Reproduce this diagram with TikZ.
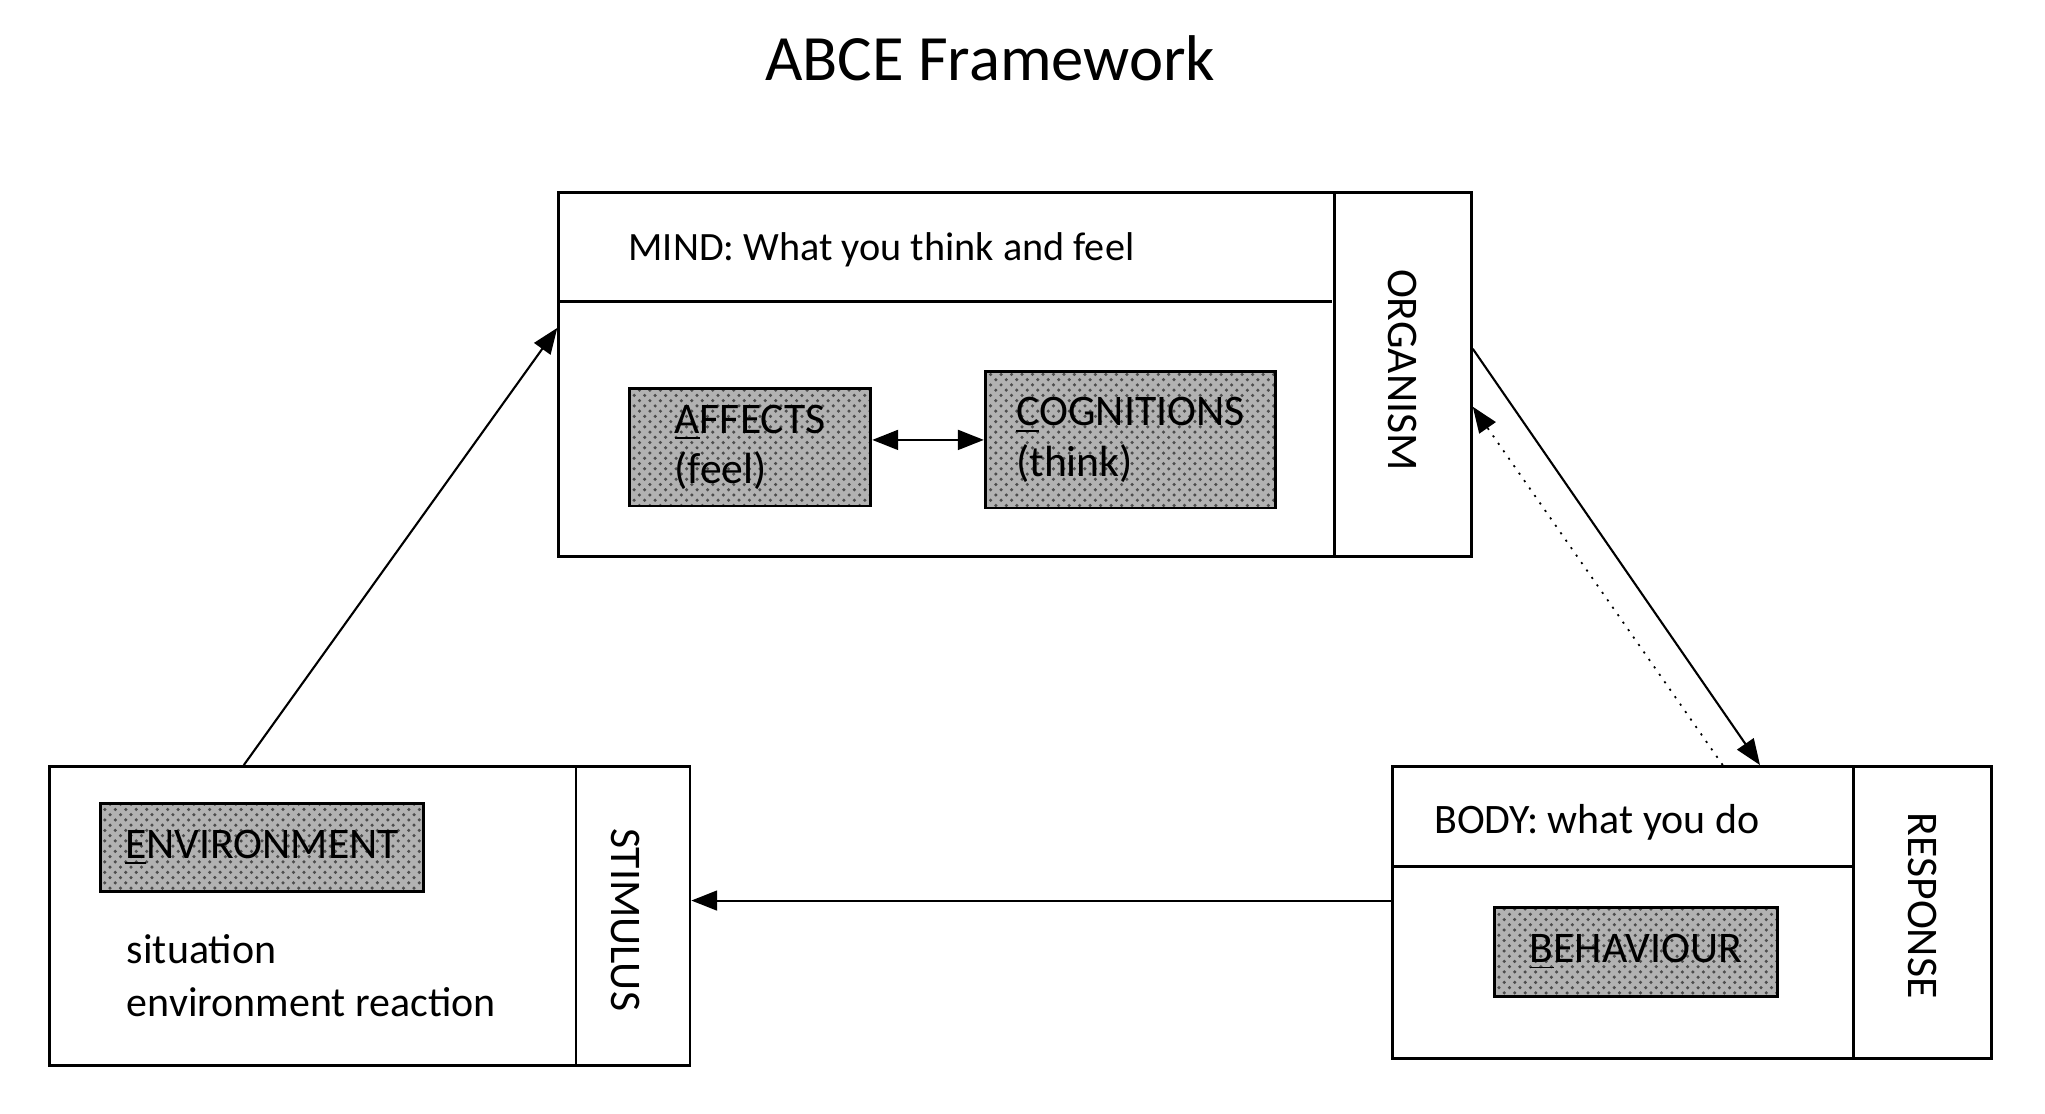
\documentclass[tikz,border=0pt]{standalone}
\usepackage{fontspec}
\setmainfont{Carlito}
\usetikzlibrary{calc,positioning,arrows.meta,patterns}

\begin{document}
\begin{tikzpicture}[
		panel/.style={draw, line width=0.8pt, inner sep=0pt},
		shaded/.style={draw, line width=0.8pt, preaction={fill=black!30}, pattern=crosshatch dots, pattern color=black!70, align=left, font=\fontsize{12.5}{14.5}\selectfont},
		txt/.style={inner sep=0pt, font=\fontsize{12}{15}\selectfont},
		side/.style={rotate=-90, inner sep=0pt, font=\fontsize{12.5}{15}\selectfont},
		conn/.style={-{Triangle[length=2.6mm,width=2mm]}, line width=0.6pt}
	]
			%%%%% START %%%%%
			
			\useasboundingbox (0,0) rectangle (20.57,-11.2);
			
			\node[font=\fontsize{18.5}{22}\selectfont] (title) at (9.96,-0.59) {ABCE Framework};
			
			% mind
			\node[panel, minimum width=9.18cm, minimum height=3.66cm] (mind) at (10.21,-3.77) {};
			\draw[line width=0.8pt] ([xshift=-1.39cm]mind.north east) -- ([xshift=-1.39cm]mind.south east);
			\draw[line width=0.8pt] ([yshift=-1.11cm]mind.north west) -- ++(7.79,0);
			\node[txt, anchor=west, font=\fontsize{11.5}{14}\selectfont] (mindtxt) at ([xshift=0.71cm,yshift=-0.59cm]mind.north west) {MIND: What you think and feel};
			\node[side] (organism) at (14.11,-3.72) {ORGANISM};
			
			\node[shaded, minimum width=2.43cm, minimum height=1.18cm] (affects) at (7.545,-4.50) {\underline{A}FFECTS\\(feel)};
			\node[shaded, minimum width=2.92cm, minimum height=1.37cm] (cognitions) at (11.37,-4.425) {\underline{C}OGNITIONS\\(think)};
			\draw[conn, {Triangle[length=2.6mm,width=2mm]}-{Triangle[length=2.6mm,width=2mm]}] (cognitions.west -| affects.east) -- (cognitions.west);
			
			% stimulus
			\node[panel, minimum width=6.44cm, minimum height=3.01cm] (stim) at (3.72,-9.215) {};
			\draw[line width=0.8pt] ([xshift=-1.16cm]stim.north east) -- ([xshift=-1.16cm]stim.south east);
			\node[side] (stimulus) at (6.29,-9.25) {STIMULUS};
			\node[shaded, minimum width=3.25cm, minimum height=0.89cm] (environment) at (2.635,-8.525) {\underline{E}NVIRONMENT};
			\node[txt, anchor=west, align=left] (situation) at (1.27,-9.815) {situation\\environment reaction};
			
			% response
			\node[panel, minimum width=6.02cm, minimum height=2.94cm] (resp) at (17.02,-9.18) {};
			\draw[line width=0.8pt] ([xshift=-1.40cm]resp.north east) -- ([xshift=-1.40cm]resp.south east);
			\draw[line width=0.8pt] ([yshift=-1.02cm]resp.north west) -- ++(4.66,0);
			\node[txt, anchor=west] (bodytxt) at (14.42,-8.27) {BODY: what you do};
			\node[side] (response) at (19.34,-9.11) {RESPONSE};
			\node[shaded, minimum width=2.85cm, minimum height=0.89cm] (behaviour) at (16.455,-9.575) {\underline{B}EHAVIOUR};
			
			% connectors
			\draw[conn] ($(stim.north west)!0.304!(stim.north east)$) -- ($(mind.north west)!0.372!(mind.south west)$);
			\draw[conn] ($(mind.north east)!0.429!(mind.south east)$) -- ($(resp.north west)!0.613!(resp.north east)$);
			\draw[conn, dotted, line width=0.5pt] ($(resp.north west)!0.551!(resp.north east)$) -- ($(mind.north east)!0.587!(mind.south east)$);
			\draw[conn] ($(resp.north west)!0.459!(resp.south west)$) coordinate (r) -- (stim.east |- r);
			
			%%%%% END %%%%%
\end{tikzpicture}
\end{document}
